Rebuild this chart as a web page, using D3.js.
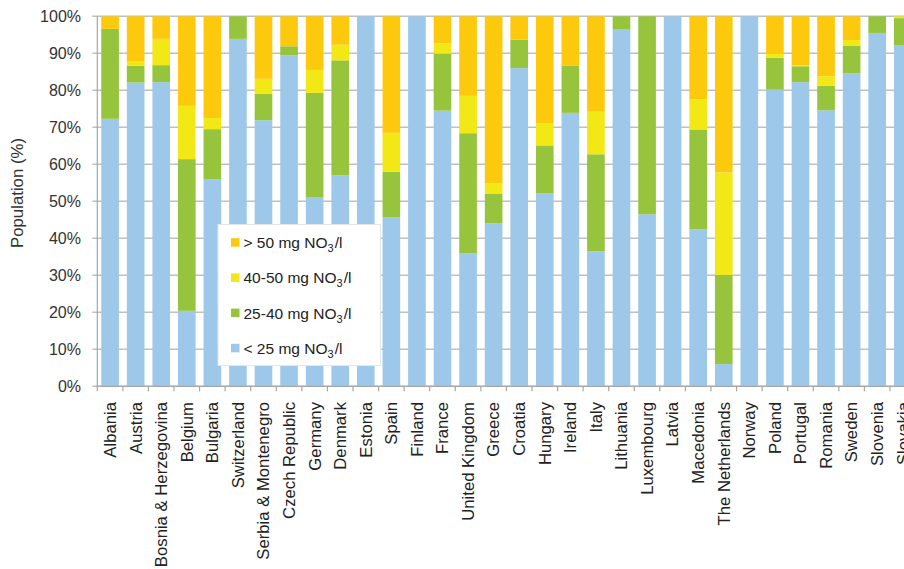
<!DOCTYPE html>
<html><head><meta charset="utf-8">
<script src="https://cdn.jsdelivr.net/npm/d3@7"></script>
<style>
body{margin:0;background:#fff;}
svg{display:block;font-family:"Liberation Sans",Arial,sans-serif;}
</style></head>
<body><svg id="chart" width="904" height="569"></svg>
<script>
const countries = ["Albania","Austria","Bosnia & Herzegovina","Belgium","Bulgaria","Switzerland","Serbia & Montenegro","Czech Republic","Germany","Denmark","Estonia","Spain","Finland","France","United Kingdom","Greece","Croatia","Hungary","Ireland","Italy","Lithuania","Luxembourg","Latvia","Macedonia","The Netherlands","Norway","Poland","Portugal","Romania","Sweden","Slovenia","Slovakia"];
const below25 = [72.3,82.1,82.2,20.4,56.0,93.9,71.9,89.5,51.0,57.0,100,45.7,100,74.5,36.0,44.1,86.0,52.2,73.9,36.5,96.4,46.5,100,42.4,6.0,100,80.2,82.2,74.6,84.6,95.5,92.1];
const from25to40 = [24.3,4.5,4.6,41.0,13.5,6.1,7.2,2.4,28.3,31.1,0,12.3,0,15.4,32.4,8.0,7.7,12.9,12.7,26.2,3.6,53.5,0,27.0,24.1,0,8.6,4.3,6.6,7.5,4.5,7.4];
const from40to50 = [0,1.3,7.1,14.4,3.0,0,4.0,0,6.2,4.2,0,10.5,0,2.8,10.1,2.8,0,5.9,0,11.7,0,0,0,8.2,27.7,0,1.1,0.3,2.6,1.5,0,0.5];
const above50 = [3.4,12.1,6.1,24.2,27.5,0,16.9,8.1,14.5,7.7,0,31.5,0,7.3,21.5,45.1,6.3,29.0,13.4,25.6,0,0,0,22.4,42.2,0,10.1,13.2,16.2,6.4,0,0];
const seriesKeys = ["lt25","25to40","40to50","gt50"];
const seriesColors = ["#9dc8e9","#96c43c","#f1e816","#fdc90d"];
const legendLabels = [["> 50 mg NO","3","/l"],["40-50 mg NO","3","/l"],["25-40 mg NO","3","/l"],["< 25 mg NO","3","/l"]];
const yTicks = [0,10,20,30,40,50,60,70,80,90,100];

const svg = d3.select("#chart");
const x0 = 97.3, step = 25.57;
const x = d3.scaleBand().domain(countries).range([x0, x0 + countries.length*step]).paddingInner(0.31).paddingOuter(0.155);
const y = d3.scaleLinear().domain([0,100]).range([386.3,16.3]);

const rows = countries.map((c,i)=>({country:c, lt25:below25[i], "25to40":from25to40[i], "40to50":from40to50[i], gt50:above50[i]}));
const stacked = d3.stack().keys(seriesKeys)(rows);

// gridlines
svg.append("g").selectAll("line").data(yTicks).join("line")
  .attr("x1", x0-5).attr("x2", 904)
  .attr("y1", d=>y(d)).attr("y2", d=>y(d))
  .attr("stroke","#c0c0c0").attr("stroke-width",1.5);

// bars
svg.append("g").selectAll("g").data(stacked).join("g")
  .attr("fill",(d,i)=>seriesColors[i])
  .selectAll("rect").data(d=>d).join("rect")
  .attr("x", d=>x(d.data.country))
  .attr("width", x.bandwidth())
  .attr("y", d=>y(d[1]))
  .attr("height", d=>Math.max(0, y(d[0])-y(d[1])));

// left axis line
svg.append("line").attr("x1",x0).attr("x2",x0).attr("y1",y(100)).attr("y2",y(0)).attr("stroke","#a6a6a6").attr("stroke-width",1.2);
// bottom axis
svg.append("line").attr("x1",x0).attr("x2",904).attr("y1",y(0)).attr("y2",y(0)).attr("stroke","#a6a6a6").attr("stroke-width",1.2);
svg.append("g").selectAll("line").data(d3.range(countries.length+1)).join("line")
  .attr("x1",i=>x.range()[0]+i*x.step()).attr("x2",i=>x.range()[0]+i*x.step())
  .attr("y1",y(0)).attr("y2",y(0)+5).attr("stroke","#a6a6a6").attr("stroke-width",1.2);

// y tick labels
svg.append("g").selectAll("text").data(yTicks).join("text")
  .attr("x",81).attr("y",d=>y(d)).attr("dy","0.35em")
  .attr("text-anchor","end").attr("font-size",16).attr("fill","#333")
  .text(d=>d+"%");

// y axis title
svg.append("text").attr("transform","translate(17,193) rotate(-90)")
  .attr("text-anchor","middle").attr("dy","0.35em").attr("font-size",16.8).attr("fill","#333")
  .text("Population (%)");

// x labels
svg.append("g").selectAll("text").data(countries).join("text")
  .attr("transform",d=>`translate(${x(d)+x.bandwidth()/2},402) rotate(-90)`)
  .attr("dy","0.35em").attr("text-anchor","end").attr("font-size",16.7).attr("fill","#222")
  .text(d=>d);

// legend
const lg = svg.append("g");
lg.append("rect").attr("x",218).attr("y",224.5).attr("width",162.5).attr("height",141)
  .attr("fill","#fff").attr("stroke","#e6e6e6");
const legendColors = seriesColors.slice().reverse();
legendLabels.forEach((lab,i)=>{
  const cy = 242.7 + i*35.2;
  lg.append("rect").attr("x",231).attr("y",cy-4.5).attr("width",8.5).attr("height",8.5).attr("fill",legendColors[i]);
  const t = lg.append("text").attr("x",243.5).attr("y",cy).attr("dy","0.35em").attr("font-size",15.5).attr("fill","#222");
  t.append("tspan").text(lab[0]);
  t.append("tspan").attr("font-size",11).attr("dy","4").text(lab[1]);
  t.append("tspan").attr("dy","-4").attr("dx","1").text(lab[2]);
});
</script></body></html>
